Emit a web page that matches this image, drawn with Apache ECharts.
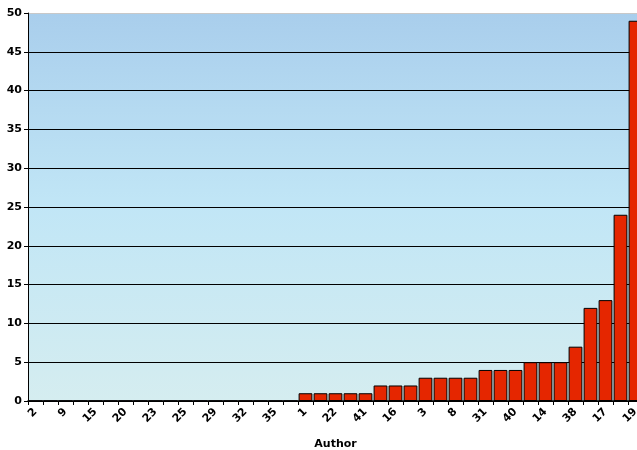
<!DOCTYPE html>
<html><head><meta charset="utf-8">
<script src="https://cdn.jsdelivr.net/npm/echarts@6/dist/echarts.min.js"></script>
<style>html,body{margin:0;padding:0;background:#fff}#c{width:637px;height:450px}</style>
</head><body><div id="c"></div>
<script>
var categories = ['2','4','9','10','15','18','20','21','23','24','25','26','29','30','32','33','35','36',
  '1','12','22','27','41','5','16','28','3','6','8','11','31','34','40','7','14','39','38','13','17','37','19'];
var values = [0,0,0,0,0,0,0,0,0,0,0,0,0,0,0,0,0,0,
  1,1,1,1,1,2,2,2,3,3,3,3,4,4,4,5,5,5,7,12,13,24,49];
var yTicks = [0,5,10,15,20,25,30,35,40,45,50];

var chart = echarts.init(document.getElementById('c'), null, {renderer:'canvas'});
var font = 'DejaVu Sans';
var splitColors = yTicks.map(function(v,i){ return i === yTicks.length-1 ? '#c8c8c8' : '#000'; });
chart.setOption({
  animation:false,
  grid:{left:28, top:13, width:615, height:388, show:true, borderWidth:0, containLabel:false, outerBoundsMode:'none',
    backgroundColor:{type:'linear',x:0,y:0,x2:0,y2:1,colorStops:[
      {offset:0,color:'#a9ceec'},{offset:0.5,color:'#c1e6f6'},{offset:1,color:'#d5edf0'}]}},
  xAxis:{type:'category', data:categories, name:'Author', nameLocation:'middle', nameGap:38,
    nameTextStyle:{fontFamily:font, fontWeight:'bold', fontSize:11, color:'#000'},
    axisLine:{lineStyle:{color:'#000', width:1.5}},
    axisTick:{show:true, interval:0, length:4, lineStyle:{color:'#000'}},
    axisLabel:{interval:1, rotate:45, fontFamily:font, fontWeight:'bold', fontSize:11, color:'#000', margin:9}},
  yAxis:{type:'value', min:0, max:50, interval:5,
    axisLine:{show:true, lineStyle:{color:'#000', width:1}},
    axisTick:{show:true, length:4, lineStyle:{color:'#000'}},
    axisLabel:{fontFamily:font, fontWeight:'bold', fontSize:11, color:'#000', margin:6},
    splitLine:{show:true, lineStyle:{color:splitColors, width:1}}},
  series:[{type:'bar', data:values, barCategoryGap:'8%',
    itemStyle:{color:'#e52600', borderColor:'#000', borderWidth:1}}]
});
</script></body></html>
